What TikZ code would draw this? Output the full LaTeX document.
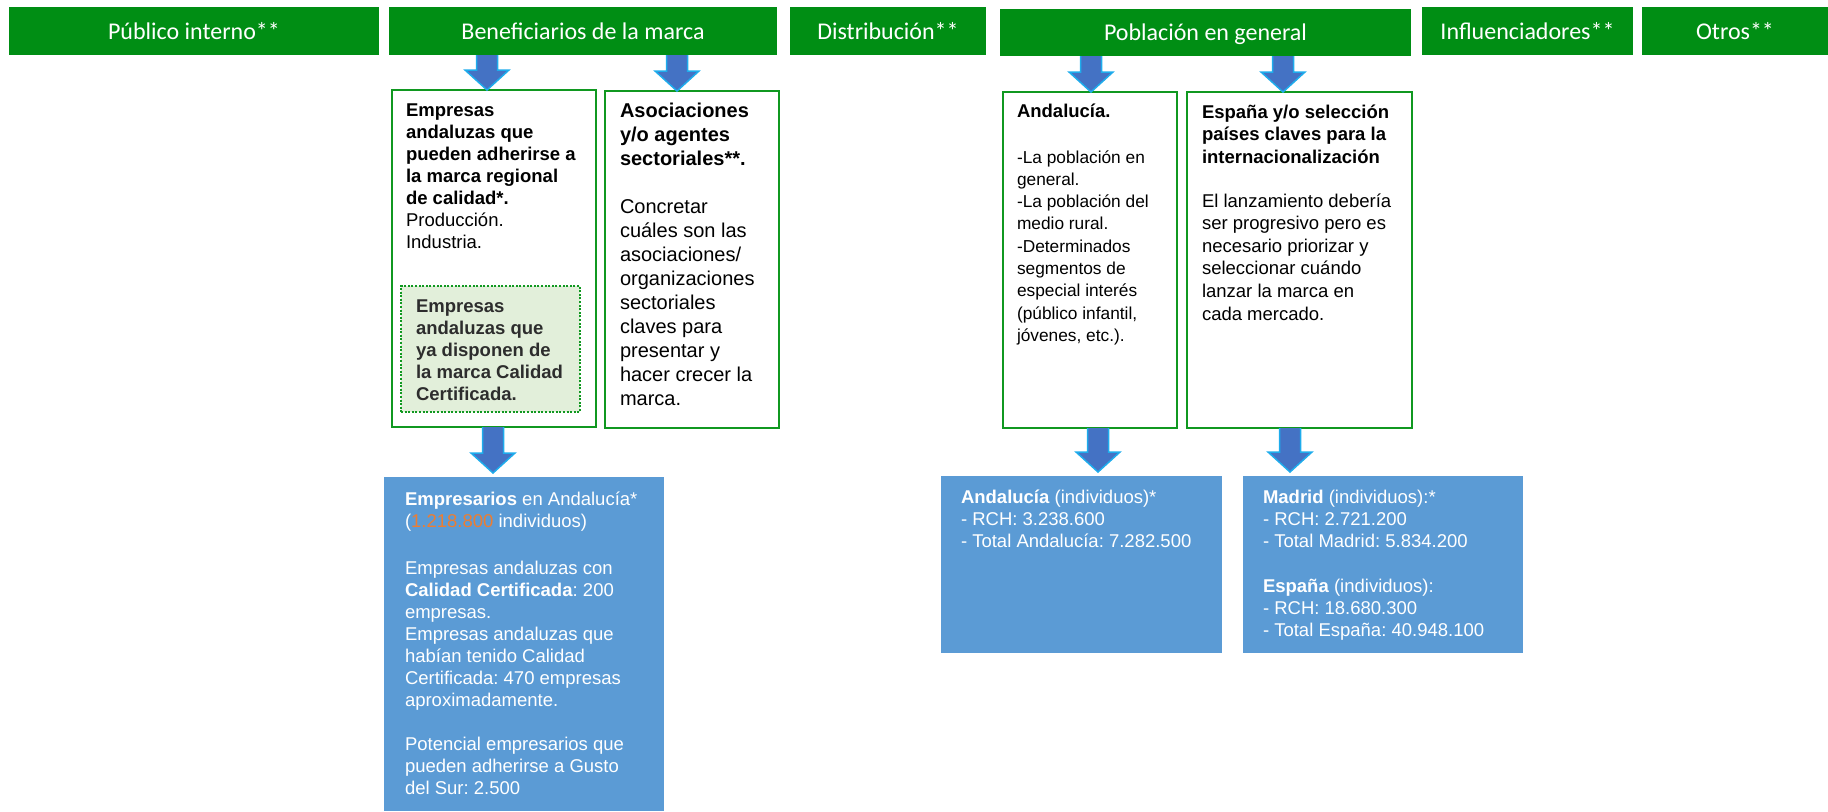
\documentclass[tikz,border=0pt]{standalone}
\usepackage{fontspec}
\setmainfont{Liberation Sans}
\newfontfamily\hdrfont{Carlito}
\usetikzlibrary{calc}
\definecolor{hdrgreen}{RGB}{0,142,20}
\definecolor{boxgreen}{RGB}{16,152,32}
\definecolor{bluebox}{RGB}{91,155,213}
\definecolor{arrfill}{RGB}{68,114,196}
\definecolor{arrline}{RGB}{30,172,236}
\definecolor{innerfill}{RGB}{226,239,218}
\definecolor{numorange}{RGB}{237,125,49}
\definecolor{darktext}{RGB}{45,45,45}
\tikzset{
  hdr/.style={fill=hdrgreen, text=white, font=\hdrfont\fontsize{24}{28}\selectfont, text height=19pt, text depth=3pt, inner sep=0pt, outer sep=0pt, anchor=north west},
  wbox/.style={draw=boxgreen, line width=2pt, fill=white, inner sep=0pt, outer sep=0pt, anchor=north west},
  ibox/.style={draw=boxgreen, line width=2pt, dash pattern=on 2pt off 1.6pt, fill=innerfill, inner sep=0pt, outer sep=0pt, anchor=north west},
  bbox/.style={fill=bluebox, inner sep=0pt, outer sep=0pt, anchor=north west},
  tx/.style={anchor=north west, inner sep=0pt, outer sep=0pt, align=left, font=\frenchspacing\fontsize{18.5}{22}\selectfont},
  blk/.style={fill=arrfill, draw=arrline, line width=1.5pt, line join=miter},
}
\newcommand\fst{\rule{0pt}{16pt}}
% block arrow: x, from node, to node, gap above target
\newcommand\blkarrow[4]{%
  \path[blk] let \p1=(#2.south), \p2=(#3.north) in
    ({#1pt+10.5pt},\y1) -- ({#1pt+10.5pt},{\y2+#4pt+20pt}) -- ({#1pt+22pt},{\y2+#4pt+20pt})
    -- (#1pt,{\y2+#4pt}) -- ({#1pt-22pt},{\y2+#4pt+20pt}) -- ({#1pt-10.5pt},{\y2+#4pt+20pt})
    -- ({#1pt-10.5pt},\y1);}
\begin{document}
\begin{tikzpicture}[x=1pt,y=-1pt]
\useasboundingbox (0,0) rectangle (1828,811);

% headers
\node[hdr, minimum width=370pt, minimum height=48pt] (hP) at (9,7) {Público interno**};
\node[hdr, minimum width=388pt, minimum height=48pt] (hB) at (389,7) {Beneficiarios de la marca};
\node[hdr, minimum width=196pt, minimum height=48pt] (hD) at (790,7) {Distribución**};
\node[hdr, minimum width=411pt, minimum height=47pt] (hPo) at (1000,9) {Población en general};
\node[hdr, minimum width=211pt, minimum height=48pt] (hI) at (1422,7) {Influenciadores**};
\node[hdr, minimum width=186pt, minimum height=48pt] (hO) at (1642,7) {Otros**};

% white boxes
\node[wbox, minimum width=204pt, minimum height=337pt] (bE) at (392,90) {};
\node[wbox, minimum width=174pt, minimum height=337pt] (bA) at (605,91) {};
\node[wbox, minimum width=174pt, minimum height=336pt] (bAn) at (1003,92) {};
\node[wbox, minimum width=225pt, minimum height=336pt] (bEs) at (1187,92) {};
\node[ibox, minimum width=179pt, minimum height=126pt] (bI) at (401,286) {};

% blue boxes
\node[bbox, minimum width=280pt, minimum height=334pt] (blE) at (384,477) {};
\node[bbox, minimum width=281pt, minimum height=177pt] (blAn) at (941,476) {};
\node[bbox, minimum width=280pt, minimum height=177pt] (blM) at (1243,476) {};

% texts in white boxes
\node[tx] (tE) at (406,100) {\fst\textbf{Empresas}\\\textbf{andaluzas que}\\\textbf{pueden adherirse a}\\\textbf{la marca regional}\\\textbf{de calidad*.}\\Producción.\\Industria.};
\node[tx, text=darktext] (tI) at (416,296) {\fst\textbf{Empresas}\\\textbf{andaluzas que}\\\textbf{ya disponen de}\\\textbf{la marca Calidad}\\\textbf{Certificada.}};
\node[tx, font=\frenchspacing\fontsize{20}{24}\selectfont] (tA) at (620,101) {\fst\textbf{Asociaciones}\\\textbf{y/o agentes}\\\textbf{sectoriales**.}\\[24pt]Concretar\\cuáles son las\\asociaciones/\\organizaciones\\sectoriales\\claves para\\presentar y\\hacer crecer la\\marca.};
\node[tx, font=\frenchspacing\fontsize{17.3}{22.3}\selectfont] (tAn) at (1017,101) {\fst{\fontsize{18.5}{22.3}\selectfont\bfseries Andalucía.}\\[23.7pt]-La población en\\general.\\-La población del\\medio rural.\\-Determinados\\segmentos de\\especial interés\\(público infantil,\\jóvenes, etc.).};
\node[tx, font=\frenchspacing\fontsize{18.5}{22.6}\selectfont] (tEs) at (1202,102) {\fst\textbf{España y/o selección}\\\textbf{países claves para la}\\\textbf{internacionalización}\\[21.2pt]El lanzamiento debería\\ser progresivo pero es\\necesario priorizar y\\seleccionar cuándo\\lanzar la marca en\\cada mercado.};

% texts in blue boxes
\node[tx, text=white] (tblE) at (405,489) {\fst\textbf{Empresarios} en Andalucía*\\(\textcolor{numorange}{1.218.800} individuos)\\[25pt]Empresas andaluzas con\\\textbf{Calidad Certificada}: 200\\empresas.\\Empresas andaluzas que\\habían tenido Calidad\\Certificada: 470 empresas\\aproximadamente.\\[22pt]Potencial empresarios que\\pueden adherirse a Gusto\\del Sur: 2.500};
\node[tx, text=white] (tblAn) at (961,487) {\fst\textbf{Andalucía} (individuos)*\\- RCH: 3.238.600\\- Total Andalucía: 7.282.500};
\node[tx, text=white] (tblM) at (1263,487) {\fst\textbf{Madrid} (individuos):*\\- RCH: 2.721.200\\- Total Madrid: 5.834.200\\[23pt]\textbf{España} (individuos):\\- RCH: 18.680.300\\- Total España: 40.948.100};

% block arrows
\blkarrow{487}{hB}{bE}{0}
\blkarrow{677}{hB}{bA}{0}
\blkarrow{1091}{hPo}{bAn}{0}
\blkarrow{1283}{hPo}{bEs}{0}
\blkarrow{493}{bE}{blE}{4}
\blkarrow{1098}{bAn}{blAn}{4}
\blkarrow{1290}{bEs}{blM}{4}
\end{tikzpicture}
\end{document}
